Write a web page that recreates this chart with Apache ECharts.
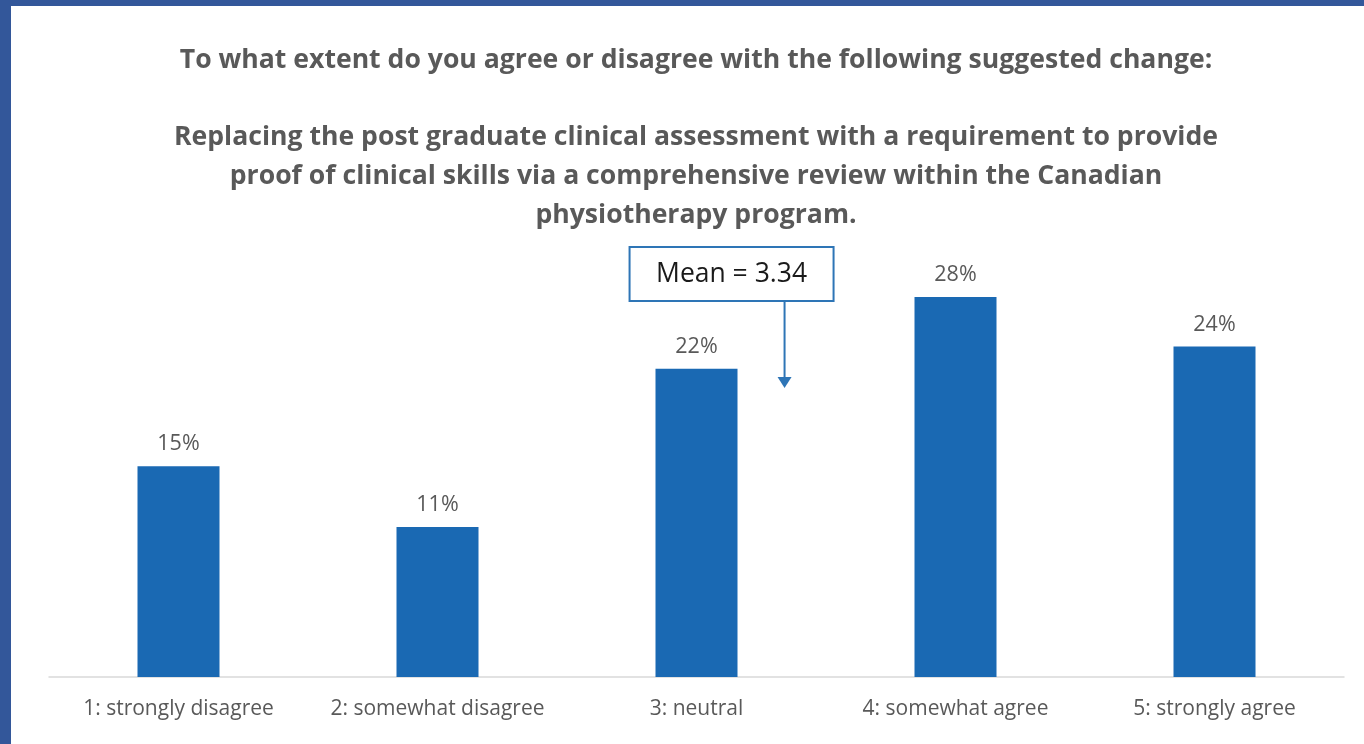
<!DOCTYPE html>
<html>
<head>
<meta charset="utf-8">
<script src="https://cdn.jsdelivr.net/npm/echarts@6/dist/echarts.min.js"></script>
<style>
  html, body { margin: 0; padding: 0; width: 1364px; height: 744px; overflow: hidden; background: #33579a; }
  #chart { position: absolute; left: 11px; top: 6px; width: 1353px; height: 738px; background: #ffffff; }
</style>
</head>
<body>
<div id="chart"></div>
<script>
const categories = ["1: strongly disagree", "2: somewhat disagree", "3: neutral", "4: somewhat agree", "5: strongly agree"];
const shares = [15.3, 10.9, 22.4, 27.6, 24.0];
const meanScore = 3.34;
const titleLines = [
  "To what extent do you agree or disagree with the following suggested change:",
  "Replacing the post graduate clinical assessment with a requirement to provide",
  "proof of clinical skills via a comprehensive review within the Canadian",
  "physiotherapy program.",
];

const FONT = "'Open Sans', Lato, sans-serif";
const BAR = "#1a69b3";
const chart = echarts.init(document.getElementById("chart"));

chart.setOption({
  animation: false,
  grid: { left: 38, right: 20, top: 258, bottom: 67 },
  xAxis: {
    type: "category",
    data: categories,
    axisTick: { show: false },
    axisLine: { lineStyle: { color: "#d9d9d9", width: 1.5 } },
    axisLabel: { color: "#595959", fontSize: 21, fontFamily: FONT, margin: 22, interval: 0 },
  },
  yAxis: { type: "value", min: 0, max: 30, show: false },
  series: [
    {
      type: "bar",
      data: shares,
      barWidth: 82,
      itemStyle: { color: BAR },
      label: {
        show: true,
        position: "top",
        distance: 11,
        color: "#595959",
        fontSize: 21.5,
        fontFamily: FONT,
        formatter: (p) => Math.round(p.value) + "%",
      },
    },
  ],
});

function drawAnnotations() {
  const lo = chart.convertToPixel({ xAxisIndex: 0 }, categories[2]);
  const hi = chart.convertToPixel({ xAxisIndex: 0 }, categories[3]);
  const x = lo + (meanScore - 3) * (hi - lo);
  const yEnd = chart.convertToPixel({ yAxisIndex: 0 }, 21);
  const boxTop = 241, boxH = 54, boxW = 204;
  const boxLeft = x - 155;

  const texts = titleLines.map((t, i) => ({
    type: "text",
    x: 685,
    y: i === 0 ? 54 : 131 + (i - 1) * 39,
    style: {
      text: t,
      fill: "#595959",
      font: "bold 26.6px " + FONT,
      textAlign: "center",
      textVerticalAlign: "middle",
    },
  }));

  chart.setOption({
    graphic: [
      ...texts,
      {
        type: "rect",
        shape: { x: boxLeft, y: boxTop, width: boxW, height: boxH },
        style: { fill: "#fff", stroke: "#2e75b6", lineWidth: 2 },
      },
      {
        type: "text",
        x: boxLeft + boxW / 2,
        y: boxTop + boxH / 2,
        style: {
          text: "Mean = " + meanScore.toFixed(2),
          fill: "#1a1a1a",
          font: "26.5px " + FONT,
          textAlign: "center",
          textVerticalAlign: "middle",
        },
      },
      {
        type: "line",
        shape: { x1: x, y1: boxTop + boxH, x2: x, y2: yEnd - 10 },
        style: { stroke: "#2e75b6", lineWidth: 2 },
      },
      {
        type: "polygon",
        shape: { points: [[x - 7, yEnd - 11], [x + 7, yEnd - 11], [x, yEnd]] },
        style: { fill: "#2e75b6" },
      },
    ],
  });
}

drawAnnotations();
window.addEventListener("resize", () => {
  chart.resize();
  drawAnnotations();
});
</script>
</body>
</html>
